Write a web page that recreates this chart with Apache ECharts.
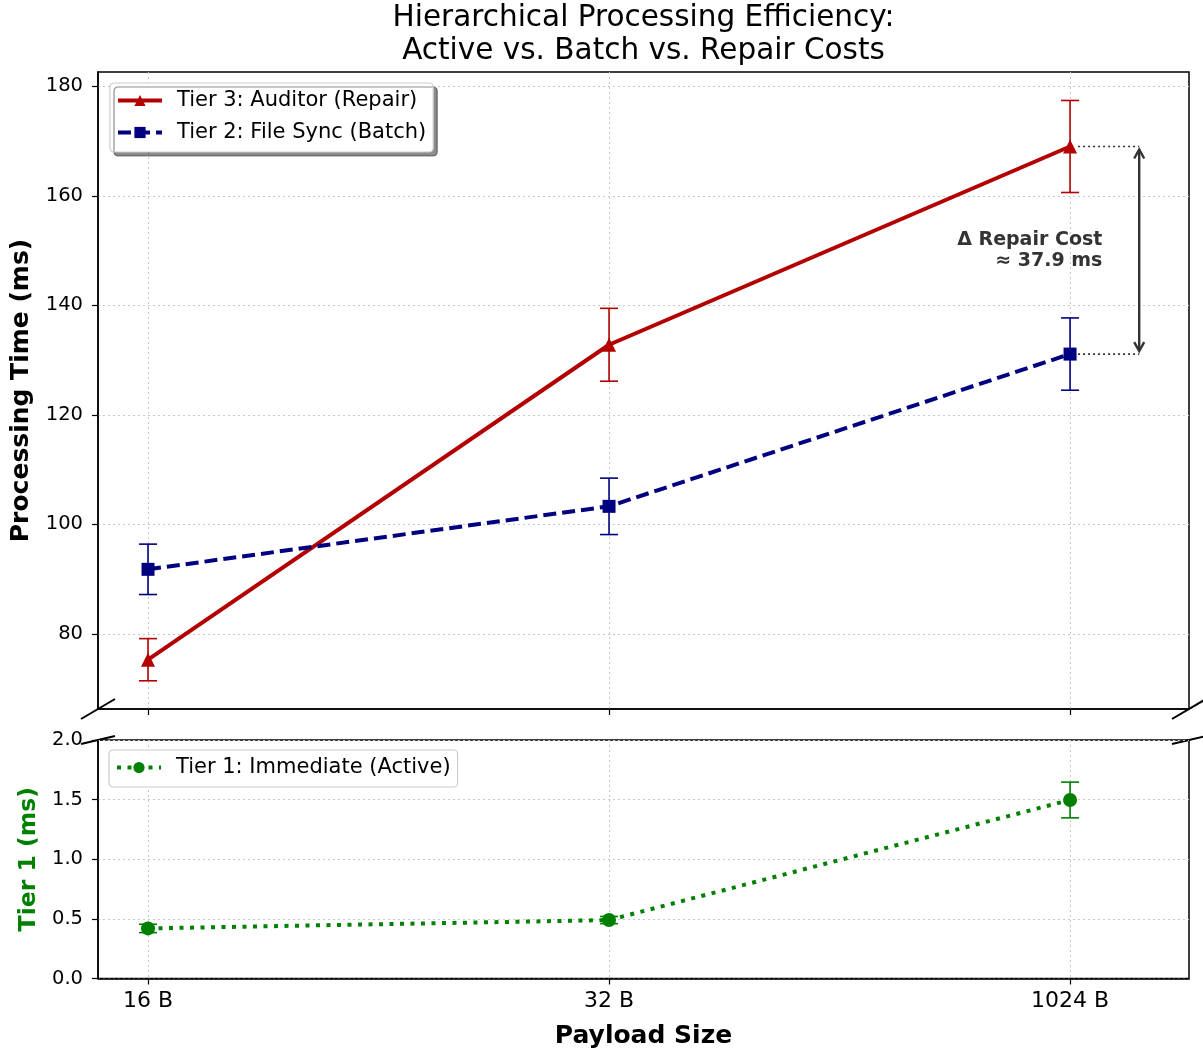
<!DOCTYPE html>
<html>
<head>
<meta charset="utf-8">
<script src="https://cdn.jsdelivr.net/npm/echarts@6/dist/echarts.min.js"></script>
<style>
  html, body { margin: 0; padding: 0; background: #fff; }
  #main { width: 1203px; height: 1051px; }
</style>
</head>
<body>
<div id="main"></div>
<script>
// data
var categories = ['16 B', '32 B', '1024 B'];
var tier3Mean = [75.3, 132.8, 169.0];
var tier3Err = [3.85, 6.65, 8.4];
var tier2Mean = [91.8, 103.3, 131.1];
var tier2Err = [4.6, 5.15, 6.6];
var tier1Mean = [0.42, 0.49, 1.497];
var tier1Err = [0.035, 0.03, 0.15];
var topTicks = [80, 100, 120, 140, 160, 180];

var RED = '#B30000', NAVY = '#000080', GREEN = '#008000';
var FONT = 'DejaVu Sans';

// layout
var L = 98, R = 1189, T1 = 72, B1 = 709, T2 = 740, B2 = 978.5;

function pts(mean) {
  return mean.map(function (v, i) { return [i, v]; });
}
function bars(mean, err) {
  return mean.map(function (v, i) { return [i, v - err[i], v + err[i]]; });
}
function errRender(color) {
  return function (params, api) {
    var x = api.value(0);
    var lo = api.coord([x, api.value(1)]);
    var hi = api.coord([x, api.value(2)]);
    var st = { stroke: color, lineWidth: 1.6 };
    var c = 9;
    return {
      type: 'group',
      children: [
        { type: 'line', shape: { x1: lo[0], y1: lo[1], x2: hi[0], y2: hi[1] }, style: st },
        { type: 'line', shape: { x1: lo[0] - c, y1: lo[1], x2: lo[0] + c, y2: lo[1] }, style: st },
        { type: 'line', shape: { x1: hi[0] - c, y1: hi[1], x2: hi[0] + c, y2: hi[1] }, style: st }
      ]
    };
  };
}

var delta = tier3Mean[2] - tier2Mean[2];
var arrowX = 2.15, textX = 2.07;

var chart = echarts.init(document.getElementById('main'));

var xCommon = {
  type: 'value', min: -0.1085, max: 2.258,
  axisLine: { show: true, onZero: false, lineStyle: { color: '#000', width: 1.5 } },
  axisTick: { show: true, customValues: [0, 1, 2], length: 6, lineStyle: { color: '#000', width: 1.2 } },
  splitLine: { show: true, lineStyle: { color: '#c8c8c8', type: [2, 3], width: 1 } }
};

var legendCommon = {
  orient: 'vertical',
  itemWidth: 44, itemHeight: 14, itemGap: 11,
  textStyle: { fontFamily: FONT, fontSize: 21, color: '#000', padding: [0, 0, 0, 10] },
  backgroundColor: '#fff',
  borderColor: '#cccccc', borderWidth: 1.2, borderRadius: 4,
  padding: [7, 7, 9, 6]
};

var option = {
  animation: false,
  backgroundColor: '#fff',
  grid: [
    { left: L, top: T1, width: R - L, height: B1 - T1, show: true, borderColor: '#000', borderWidth: 1.5, backgroundColor: 'transparent' },
    { left: L, top: T2, width: R - L, height: B2 - T2, show: true, borderColor: '#000', borderWidth: 1.5, backgroundColor: 'transparent' }
  ],
  legend: [
    Object.assign({}, legendCommon, {
      left: 110, top: 83,
      shadowColor: 'rgba(0,0,0,0.45)', shadowOffsetX: 4, shadowOffsetY: 4, shadowBlur: 0,
      data: [
        { name: 'Tier 3: Auditor (Repair)', lineStyle: { width: 4 } },
        { name: 'Tier 2: File Sync (Batch)', lineStyle: { width: 4 } }
      ]
    }),
    Object.assign({}, legendCommon, {
      left: 109, top: 750,
      data: [{ name: 'Tier 1: Immediate (Active)', lineStyle: { width: 4 } }]
    })
  ],
  xAxis: [
    Object.assign({}, xCommon, {
      gridIndex: 0,
      axisLabel: { show: false }
    }),
    Object.assign({}, xCommon, {
      gridIndex: 1,
      name: 'Payload Size', nameLocation: 'middle', nameGap: 45,
      nameTextStyle: { fontFamily: FONT, fontSize: 25, fontWeight: 'bold', color: '#000' },
      axisLabel: {
        customValues: [0, 1, 2], margin: 12,
        fontFamily: FONT, fontSize: 22, color: '#000',
        formatter: function (v) { return categories[Math.round(v)]; }
      }
    })
  ],
  yAxis: [
    {
      type: 'value', gridIndex: 0, min: 66.3, max: 182.6,
      name: 'Processing Time (ms)', nameLocation: 'middle', nameGap: 64,
      nameTextStyle: { fontFamily: FONT, fontSize: 25, fontWeight: 'bold', color: '#000' },
      axisLine: { show: true, onZero: false, lineStyle: { color: '#000', width: 1.5 } },
      axisTick: { show: true, customValues: topTicks, length: 6, lineStyle: { color: '#000', width: 1.2 } },
      axisLabel: { customValues: topTicks, margin: 15, fontFamily: FONT, fontSize: 19.5, color: '#000' },
      splitLine: { show: true, lineStyle: { color: '#c8c8c8', type: [2, 3], width: 1 } }
    },
    {
      type: 'value', gridIndex: 1, min: 0, max: 2, interval: 0.5,
      name: 'Tier 1 (ms)', nameLocation: 'middle', nameGap: 56,
      nameTextStyle: { fontFamily: FONT, fontSize: 23.5, fontWeight: 'bold', color: GREEN },
      axisLine: { show: true, onZero: false, lineStyle: { color: '#000', width: 1.5 } },
      axisTick: { show: true, length: 6, lineStyle: { color: '#000', width: 1.2 } },
      axisLabel: { margin: 15, fontFamily: FONT, fontSize: 19.5, color: '#000',
        formatter: function (v) { return v.toFixed(1); } },
      splitLine: { show: true, lineStyle: { color: '#c8c8c8', type: [2, 3], width: 1 } }
    }
  ],
  series: [
    {
      type: 'custom', xAxisIndex: 0, yAxisIndex: 0, z: 3,
      renderItem: errRender(RED), data: bars(tier3Mean, tier3Err),
      encode: { x: 0, y: [1, 2] }, silent: true
    },
    {
      name: 'Tier 3: Auditor (Repair)', type: 'line', xAxisIndex: 0, yAxisIndex: 0, z: 4,
      data: pts(tier3Mean), symbol: 'triangle', symbolSize: 14,
      itemStyle: { color: RED }, lineStyle: { color: RED, width: 4 }
    },
    {
      type: 'custom', xAxisIndex: 0, yAxisIndex: 0, z: 5,
      renderItem: errRender(NAVY), data: bars(tier2Mean, tier2Err),
      encode: { x: 0, y: [1, 2] }, silent: true
    },
    {
      name: 'Tier 2: File Sync (Batch)', type: 'line', xAxisIndex: 0, yAxisIndex: 0, z: 6,
      data: pts(tier2Mean), symbol: 'rect', symbolSize: 13,
      itemStyle: { color: NAVY }, lineStyle: { color: NAVY, width: 4, type: [13, 6] }
    },
    {
      type: 'custom', xAxisIndex: 1, yAxisIndex: 1, z: 3,
      renderItem: errRender(GREEN), data: bars(tier1Mean, tier1Err),
      encode: { x: 0, y: [1, 2] }, silent: true
    },
    {
      name: 'Tier 1: Immediate (Active)', type: 'line', xAxisIndex: 1, yAxisIndex: 1, z: 4,
      data: pts(tier1Mean), symbol: 'circle', symbolSize: 14,
      itemStyle: { color: GREEN }, lineStyle: { color: GREEN, width: 4, type: [4, 6.5] }
    },
    {
      // delta annotation
      type: 'custom', xAxisIndex: 0, yAxisIndex: 0, z: 7, silent: true,
      data: [[2, tier3Mean[2], tier2Mean[2]]],
      renderItem: function (params, api) {
        var top = api.coord([api.value(0), api.value(1)]);
        var bot = api.coord([api.value(0), api.value(2)]);
        var ax = api.coord([arrowX, api.value(1)])[0];
        var tx = api.coord([textX, api.value(1)])[0];
        var dot = { stroke: '#333', lineWidth: 1.6, lineDash: [2, 3] };
        var ar = { stroke: '#333', lineWidth: 2.4, fill: null };
        var h = 9, w = 5;
        return {
          type: 'group',
          children: [
            { type: 'line', shape: { x1: top[0] + 8, y1: top[1], x2: ax, y2: top[1] }, style: dot },
            { type: 'line', shape: { x1: bot[0] + 8, y1: bot[1], x2: ax, y2: bot[1] }, style: dot },
            { type: 'line', shape: { x1: ax, y1: top[1] + 3, x2: ax, y2: bot[1] - 3 }, style: ar },
            { type: 'polyline', shape: { points: [[ax - w, top[1] + 3 + h], [ax, top[1] + 3], [ax + w, top[1] + 3 + h]] }, style: ar },
            { type: 'polyline', shape: { points: [[ax - w, bot[1] - 3 - h], [ax, bot[1] - 3], [ax + w, bot[1] - 3 - h]] }, style: ar },
            {
              type: 'text',
              x: tx, y: (top[1] + bot[1]) / 2,
              style: {
                text: '\u0394 Repair Cost\n\u2248 ' + delta.toFixed(1) + ' ms',
                fill: '#333', font: 'bold 19px "' + FONT + '"',
                align: 'right', verticalAlign: 'middle', lineHeight: 21
              }
            }
          ]
        };
      }
    }
  ],
  graphic: [
    // title, centred over the axes
    {
      type: 'text', x: (L + R) / 2, y: 35,
      style: {
        text: 'Hierarchical Processing Efficiency:\nActive vs. Batch vs. Repair Costs',
        font: '29.5px "' + FONT + '"', fill: '#000',
        align: 'center', verticalAlign: 'middle', lineHeight: 33
      }
    },
    // axis break marks
    { type: 'line', shape: { x1: L - 17, y1: B1 + 10, x2: L + 17, y2: B1 - 10 }, style: { stroke: '#000', lineWidth: 2 } },
    { type: 'line', shape: { x1: R - 17, y1: B1 + 10, x2: R + 17, y2: B1 - 10 }, style: { stroke: '#000', lineWidth: 2 } },
    { type: 'line', shape: { x1: L - 17, y1: T2 + 4, x2: L + 17, y2: T2 - 4 }, style: { stroke: '#000', lineWidth: 2 } },
    { type: 'line', shape: { x1: R - 17, y1: T2 + 4, x2: R + 17, y2: T2 - 4 }, style: { stroke: '#000', lineWidth: 2 } }
  ]
};

chart.setOption(option);
</script>
</body>
</html>
